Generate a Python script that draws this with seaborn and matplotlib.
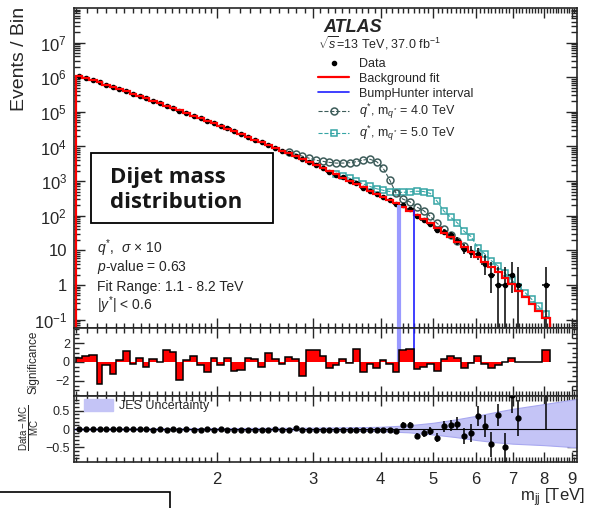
import numpy as np
import matplotlib
matplotlib.use("Agg")
import matplotlib.pyplot as plt
import seaborn as sns
from matplotlib.lines import Line2D
from matplotlib.patches import Rectangle, Patch
from matplotlib.ticker import LogLocator, NullFormatter

# bin edges in TeV
edges = [1.10, 1.13, 1.16, 1.20, 1.23, 1.27, 1.30, 1.34, 1.38, 1.42, 1.46, 1.50, 1.55, 1.59,
         1.64, 1.68, 1.73, 1.78, 1.84, 1.89, 1.95, 2.00, 2.06, 2.12, 2.18, 2.25, 2.31, 2.38,
         2.45, 2.52, 2.60, 2.67, 2.75, 2.83, 2.91, 3.00, 3.09, 3.17, 3.27, 3.36, 3.46, 3.56,
         3.66, 3.77, 3.88, 3.99, 4.10, 4.21, 4.33, 4.46, 4.60, 4.73, 4.87, 5.01, 5.16, 5.31,
         5.46, 5.62, 5.79, 5.95, 6.13, 6.31, 6.49, 6.68, 6.87, 7.07, 7.28, 7.49, 7.71, 7.93, 8.20]

bkg_fit = [1120000, 973000, 826000, 708000, 611000, 527000, 457000, 392000, 337000, 288000,
           250000, 211000, 178000, 151000, 129000, 110000, 93300, 77800, 65300, 55200,
           46600, 39600, 33000, 27500, 22800, 19000, 15800, 13100, 11000, 9060,
           7530, 6310, 5250, 4360, 3520, 2860, 2340, 1910, 1560, 1260,
           1020, 828, 668, 532, 431, 350, 285, 231, 181, 136,
           104, 79.4, 61.0, 44.6, 32.5, 23.8, 17.5, 12.8, 9.18, 6.61,
           4.64, 3.33, 2.37, 1.59, 1.03, 0.662, 0.434, 0.279, 0.181, 0.114]

data_counts = [1120490, 973590, 826700, 706070, 610730, 526060, 457140, 392720, 336880, 288240,
               249750, 211160, 178000, 151510, 129400, 109350, 93380, 77980, 65220, 54950,
               46690, 39530, 33080, 27330, 22680, 19060, 15840, 13040, 11105, 9093,
               7513, 6350, 5275, 4261, 3594, 2930, 2371, 1884, 1548, 1272,
               1017, 868, 641, 527, 419, 354, 282, 215, 198, 152,
               97, 75, 59, 38, 34, 27, 19, 11, 9, 8,
               4, 2, 1, 1, 2, 1, 0, 0, 0, 1]

significance = [0.46, 0.6, 0.77, -2.3, -0.35, -1.3, 0.2, 1.15, -0.2, 0.45,
                -0.5, 0.35, 0.0, 1.3, 1.1, -1.95, 0.25, 0.65, -0.3, -1.05,
                0.4, -0.35, 0.45, -1.0, -0.8, 0.45, 0.3, -0.5, 1.0, 0.35,
                -0.2, 0.5, 0.35, -1.5, 1.25, 1.3, 0.65, -0.6, -0.3, 0.35,
                -0.1, 1.4, -1.05, -0.2, -0.6, 0.2, -0.2, -1.05, 1.25, 1.35,
                -0.7, -0.5, -0.2, -1.0, 0.35, 0.6, 0.45, -0.6, -0.1, 0.65,
                -0.2, -0.6, -0.35, 0.0, 0.45, 0.0, 0.0, 0.0, 0.0, 1.25]

# q* signal + background (sigma x 10)
q4_first_bin = 31
q4_counts = [7080, 6030, 5250, 4570, 3980, 3720, 3470, 3310, 3310, 3390, 3630, 4070, 4270, 3630,
             2340, 1100, 450, 302, 251, 178, 141, 95, 60, 42, 28, 19, 13.5]
q5_first_bin = 38
q5_counts = [1620, 1400, 1200, 1000, 830, 700, 600, 540, 500, 480, 470, 490, 510, 500, 440, 260,
             135, 90, 62, 35, 25, 12, 7.9, 5.0, 3.5, 2.2, 1.4, 0.9, 0.6, 0.38, 0.24, 0.14]

bumphunter_edges = [4.33, 4.60]
bumphunter_top = [200, 147]

ratio = [0.0, 0.0, 0.0, -0.01, 0.0, -0.01, -0.01, 0.0, -0.01, -0.01,
         -0.01, -0.02, -0.01, -0.02, -0.01, -0.02, -0.01, -0.02, -0.02, -0.01,
         -0.02, -0.01, -0.02, -0.02, -0.03, -0.02, -0.02, -0.03, -0.02, -0.01,
         -0.03, -0.02, 0.02, -0.03, -0.04, -0.03, -0.03, -0.04, -0.03, -0.02,
         -0.04, -0.03, -0.03, -0.04, -0.03, -0.04, -0.03, -0.05, 0.12, 0.12,
         -0.2, -0.12, -0.05, -0.24, 0.07, 0.1, 0.14, -0.2, -0.1, 0.35,
         0.08, -0.42, 0.38, -0.5, 0.93, 0.3, None, None, None, 5.0]
ratio_err = [0.004] * 20 + [0.008] * 10 + [0.015] * 10 + [0.03] * 8 + \
            [0.06, 0.07, 0.08, 0.09, 0.1, 0.12, 0.14, 0.15,
             0.18, 0.22, 0.25, 0.28, 0.3, 0.35, 0.3, 0.4, 0.5, 0.5, None, None, None, 5.0]

jes_mass = [1.09, 2.0, 3.0, 3.5, 4.0, 4.5, 5.0, 5.5, 6.0, 6.5, 7.0, 8.0, 9.2]
jes_up = [0.02, 0.025, 0.035, 0.045, 0.06, 0.1, 0.17, 0.26, 0.36, 0.46, 0.55, 0.68, 0.82]
jes_down = [-0.02, -0.025, -0.035, -0.04, -0.06, -0.09, -0.15, -0.22, -0.3, -0.36, -0.4, -0.44, -0.5]

edges_a = np.array(edges)
centers = np.sqrt(edges_a[:-1] * edges_a[1:])
bkg_a = np.array(bkg_fit)
data_a = np.array(data_counts, dtype=float)
sig_a = np.array(significance)
ratio_a = np.array([np.nan if v is None else v for v in ratio])
ratio_e = np.array([np.nan if v is None else v for v in ratio_err])

sns.set_style("ticks")
plt.rcParams["font.family"] = ["Liberation Sans", "DejaVu Sans"]
plt.rcParams["mathtext.fontset"] = "custom"
plt.rcParams["mathtext.rm"] = "Liberation Sans"
plt.rcParams["mathtext.it"] = "Liberation Sans:italic"
plt.rcParams["mathtext.bf"] = "Liberation Sans:bold"

W, H = 589, 508
fig = plt.figure(figsize=(W / 100, H / 100), dpi=100)


def fx(p):
    return p / W


def fy(p):
    return 1 - p / H


L, R = 74, 577
ax = fig.add_axes([fx(L), fy(328), fx(R) - fx(L), (328 - 8) / H])
ax_sig = fig.add_axes([fx(L), fy(396), fx(R) - fx(L), (396 - 328) / H], sharex=ax)
ax_rat = fig.add_axes([fx(L), fy(462), fx(R) - fx(L), (462 - 396) / H], sharex=ax)

c_q4 = "#3d5c5a"
c_q5 = "#35a5a5"

# ---- main panel
ax.set_xscale("log")
ax.set_yscale("log")
i4 = np.arange(q4_first_bin, q4_first_bin + len(q4_counts))
i5 = np.arange(q5_first_bin, q5_first_bin + len(q5_counts))
sns.lineplot(x=centers[i5], y=q5_counts, ax=ax, color=c_q5, lw=0.8, ls="--", marker="s",
             ms=5, markerfacecolor="none", markeredgecolor=c_q5, mew=1.1, zorder=2)
sns.lineplot(x=centers[i4], y=q4_counts, ax=ax, color=c_q4, lw=0.8, ls="--", marker="o",
             ms=5, markerfacecolor="none", markeredgecolor=c_q4, mew=1.1, zorder=3)

ok = data_a > 0
lo = np.minimum(np.sqrt(data_a[ok]), data_a[ok] - 1e-3)
up = 1 + np.sqrt(data_a[ok] + 0.75)
xlo = centers[ok] - edges_a[:-1][ok]
xhi = edges_a[1:][ok] - centers[ok]
ax.errorbar(centers[ok], data_a[ok], yerr=[lo, up], xerr=[xlo, xhi], fmt="o", color="black",
            ms=3, lw=1.1, capsize=0, zorder=4)
ax.stairs(bkg_a, edges_a, color="red", lw=1.6, zorder=5)
ax.vlines(bumphunter_edges[0], 1e-3, bumphunter_top[0], color="#9a9aff", lw=3, zorder=6)
ax.vlines(bumphunter_edges[1], 1e-3, bumphunter_top[1], color="#1f1fff", lw=1.2, zorder=6)

ax.set_xlim(1.09, 9.2)
ax.set_ylim(0.057, 1e8)
yt = [1e-1, 1, 10, 1e2, 1e3, 1e4, 1e5, 1e6, 1e7]
ax.set_yticks(yt)
ax.set_yticklabels([r"$10^{-1}$", "1", "10", r"$10^{2}$", r"$10^{3}$", r"$10^{4}$",
                    r"$10^{5}$", r"$10^{6}$", r"$10^{7}$"], fontsize=12)
ax.yaxis.set_minor_locator(LogLocator(base=10, subs=np.arange(2, 10), numticks=30))
ax.yaxis.set_minor_formatter(NullFormatter())

# ---- significance panel
ax_sig.stairs(sig_a, edges_a, fill=True, color="red", baseline=0, zorder=2)
ax_sig.stairs(sig_a, edges_a, color="black", lw=1.1, baseline=0, zorder=3)
ax_sig.vlines(bumphunter_edges[0], 0, 4, color="#9a9aff", lw=3, zorder=1)
ax_sig.vlines(bumphunter_edges[1], 0, 4, color="#1f1fff", lw=1.2, zorder=1)
ax_sig.set_ylim(-3.6, 3.6)
ax_sig.set_yticks([-2, 0, 2])
ax_sig.set_yticklabels(["\u22122", "0", "2"], fontsize=9)
ax_sig.set_yticks(np.arange(-3.5, 3.6, 0.5), minor=True)

# ---- ratio panel
ax_rat.fill_between(jes_mass, jes_down, jes_up, color="#c4c4f6", lw=0.8, edgecolor="#a8a8f0", zorder=1)
ax_rat.axhline(0, color="black", lw=0.8, zorder=2)
ax_rat.errorbar(centers, ratio_a, yerr=ratio_e, fmt="o", color="black", ms=3.5, lw=1.1,
                capsize=0, zorder=3)
ax_rat.set_ylim(-0.9, 0.9)
ax_rat.set_yticks([-0.5, 0, 0.5])
ax_rat.set_yticklabels(["\u22120.5", "0", "0.5"], fontsize=9)
ax_rat.set_yticks(np.arange(-0.8, 0.81, 0.1), minor=True)
ax_rat.legend([Patch(facecolor="#c4c4f6", edgecolor="#c4c4f6")], ["JES Uncertainty"],
              loc="upper left", bbox_to_anchor=(fx(84), fy(399)), bbox_transform=fig.transFigure,
              frameon=False, fontsize=9, handlelength=2.3, handleheight=1.1, handletextpad=0.5,
              borderpad=0, borderaxespad=0)

# ---- x axis ticks
major_x = [2, 3, 4, 5, 6, 7, 8, 9]
minor_x = [round(v, 2) for v in np.arange(1.10, 2.0, 0.05)] + \
          [round(v, 2) for v in np.arange(2.1, 9.2, 0.1) if abs(v - round(v)) > 0.01]
ax_rat.set_xticks(major_x)
ax_rat.set_xticklabels([str(v) for v in major_x], fontsize=12)
ax_rat.set_xticks(minor_x, minor=True)
ax_rat.xaxis.set_minor_formatter(NullFormatter())

for a in (ax, ax_sig, ax_rat):
    a.tick_params(which="both", direction="in", top=True, right=True, width=1)
    a.tick_params(which="major", length=7)
    a.tick_params(which="minor", length=3.5)
    for s in a.spines.values():
        s.set_linewidth(1.2)
ax.tick_params(axis="y", which="major", length=8, pad=5)
ax.tick_params(axis="y", which="minor", length=4.5)
ax.tick_params(axis="x", labelbottom=False)
ax_sig.tick_params(axis="x", labelbottom=False)
ax_sig.tick_params(axis="y", pad=3)
ax_rat.tick_params(axis="y", pad=3)
ax_rat.tick_params(axis="x", which="major", pad=7)

# ---- labels and texts
fig.text(fx(20), fy(7), "Events / Bin", rotation=90, ha="center", va="top", fontsize=14)
fig.text(fx(33), fy(362), "Significance", rotation=90, ha="center", va="center", fontsize=8.5)
fig.text(fx(30), fy(428), r"$\frac{\rm Data-MC}{\rm MC}$", rotation=90, ha="center",
         va="center", fontsize=10)
fig.text(fx(585), fy(498), r"m$_{\rm jj}$ [TeV]", ha="right", va="center", fontsize=12)

fig.text(fx(323), fy(27), "ATLAS", fontsize=13, weight="bold", style="italic", va="center")
fig.text(fx(318), fy(43), r"$\sqrt{s}$=13 TeV, 37.0 fb$^{-1}$", fontsize=9, va="center")

handles = [
    Line2D([], [], ls="none", marker="o", color="black", ms=3),
    Line2D([], [], color="red", lw=1.6),
    Line2D([], [], color="#1f1fff", lw=1.2),
    Line2D([], [], color=c_q4, ls="--", lw=0.8, marker="o", ms=5, mfc="none", mew=1.1),
    Line2D([], [], color=c_q5, ls="--", lw=0.8, marker="s", ms=5, mfc="none", mew=1.1),
]
labels = ["Data", "Background fit", "BumpHunter interval",
          r"$q^{*}$, m$_{q^{*}}$ = 4.0 TeV", r"$q^{*}$, m$_{q^{*}}$ = 5.0 TeV"]
ax.legend(handles, labels, loc="upper left", bbox_to_anchor=(fx(318), fy(58)),
          bbox_transform=fig.transFigure, frameon=False, fontsize=9, handlelength=2.5,
          handletextpad=0.8, labelspacing=0.22, borderpad=0, borderaxespad=0)

for yy, s in zip([248, 267, 287, 305],
                 [r"$q^{*}$,  $\sigma$ $\times$ 10", r"$p$-value = 0.63",
                  "Fit Range: 1.1 - 8.2 TeV", r"|$y^{*}$| < 0.6"]):
    fig.text(fx(97), fy(yy), s, fontsize=10, va="center")

# overlay box
fig.patches.append(Rectangle((fx(91), fy(223)), fx(273) - fx(91), (223 - 153) / H,
                             transform=fig.transFigure, facecolor="white", edgecolor="black",
                             lw=1.3, zorder=10))
fig.text(fx(110), fy(177), "Dijet mass", fontsize=16, weight="bold", family="Open Sans",
         color="#161616", va="center", zorder=11)
fig.text(fx(110), fy(202), "distribution", fontsize=16, weight="bold", family="Open Sans",
         color="#161616", va="center", zorder=11)
fig.patches.append(Rectangle((fx(-5), fy(515)), fx(170) + fx(5), (515 - 492) / H,
                             transform=fig.transFigure, facecolor="none", edgecolor="black",
                             lw=1.2, zorder=10))

fig.savefig("out.png", dpi=100)
